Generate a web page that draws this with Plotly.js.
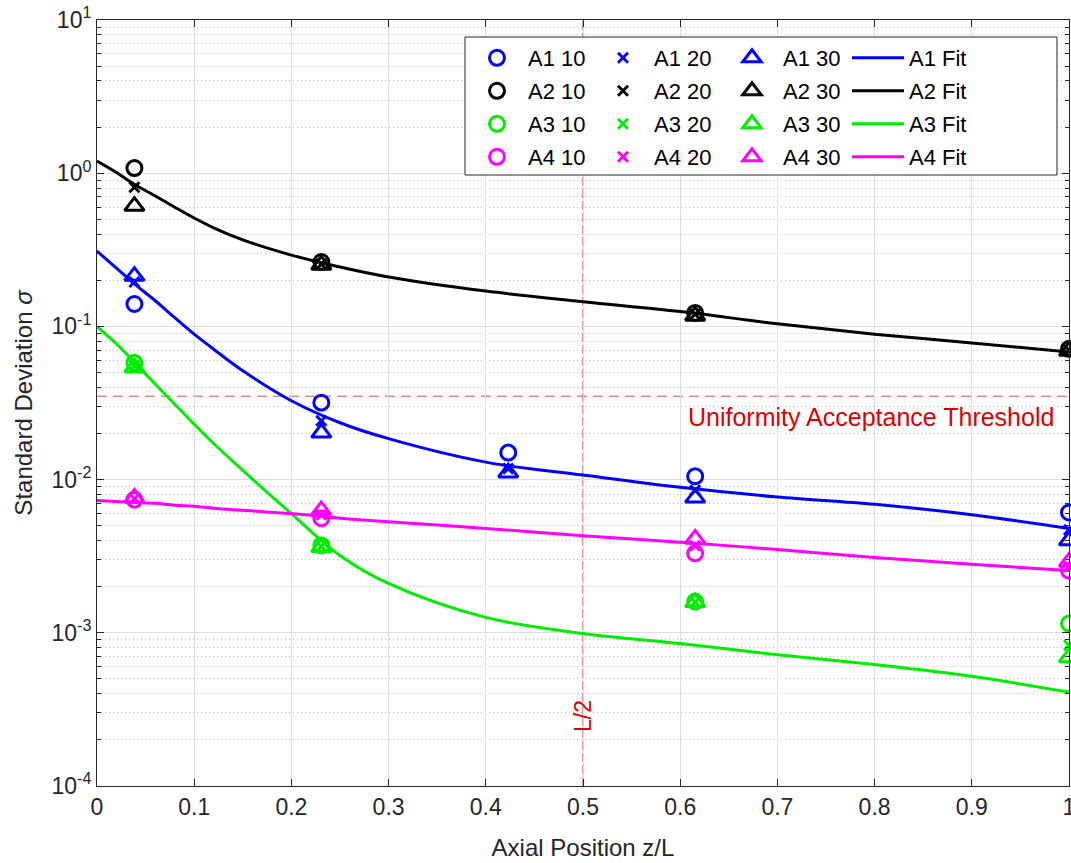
<!DOCTYPE html>
<html>
<head>
<meta charset="utf-8">
<script src="https://cdn.plot.ly/plotly-3.0.1.min.js"></script>
<style>html,body{margin:0;padding:0;background:#fff;}#chart{width:1071px;height:863px;}</style>
</head>
<body>
<div id="chart"></div>
<script>
// Axial positions of measurements (z/L)
const zPos = [0.0385, 0.2308, 0.4231, 0.6154, 1.0];

// Measured standard deviations
const A1_10 = [0.140, 0.0318, 0.0150, 0.0105, 0.0061];
const A1_20 = [0.195, 0.0242, 0.0118, 0.0085, 0.0047];
const A1_30 = [0.213, 0.0202, 0.0111, 0.0076, 0.0040];
const A2_10 = [1.08, 0.263, null, 0.1225, 0.0714];
const A2_20 = [0.81, 0.255, null, 0.120, 0.070];
const A2_30 = [0.61, 0.252, null, 0.117, 0.069];
const A3_10 = [0.0578, 0.00372, null, 0.00160, 0.00115];
const A3_20 = [0.0555, 0.00367, null, 0.00159, 0.00083];
const A3_30 = [0.0537, 0.00362, null, 0.00158, 0.00069];
const A4_10 = [0.0074, 0.0056, null, 0.0033, 0.00255];
const A4_20 = [0.0075, 0.0059, null, 0.0037, 0.0027];
const A4_30 = [0.0076, 0.0063, null, 0.0041, 0.0029];

// Fit curves
const zFit   = [0, 0.02, 0.04, 0.06, 0.08, 0.1, 0.12, 0.15, 0.2, 0.25, 0.3, 0.4, 0.5, 0.6, 0.7, 0.8, 0.9, 1.0];
const A1_fit = [0.310, 0.240, 0.186, 0.147, 0.114, 0.089, 0.071, 0.0513, 0.0327, 0.0235, 0.0185, 0.0130, 0.0107, 0.0089, 0.0077, 0.0069, 0.0059, 0.0048];
const A2_fit = [1.20, 1.01, 0.835, 0.71, 0.60, 0.51, 0.44, 0.367, 0.292, 0.244, 0.21, 0.17, 0.145, 0.125, 0.104, 0.089, 0.078, 0.068];
const A3_fit = [0.100, 0.077, 0.057, 0.042, 0.031, 0.023, 0.0172, 0.0115, 0.0060, 0.0032, 0.0021, 0.00126, 0.00099, 0.00085, 0.00072, 0.00062, 0.00052, 0.00041];
const A4_fit = [0.0073, 0.0072, 0.0071, 0.0070, 0.0068, 0.0067, 0.0065, 0.0063, 0.0060, 0.0056, 0.0053, 0.0048, 0.0043, 0.0039, 0.0035, 0.0031, 0.0028, 0.00255];

const threshold = 0.035;
const halfL = 0.5;

const seriesNames = ['A1', 'A2', 'A3', 'A4'];
const seriesColors = ['#0000ff', '#000000', '#00ee00', '#ff00ff'];
const data10 = [A1_10, A2_10, A3_10, A4_10];
const data20 = [A1_20, A2_20, A3_20, A4_20];
const data30 = [A1_30, A2_30, A3_30, A4_30];
const dataFit = [A1_fit, A2_fit, A3_fit, A4_fit];

const yTickVals = [1e-4, 1e-3, 1e-2, 1e-1, 1, 10];
const yTickText = ['10<sup>-4</sup>', '10<sup>-3</sup>', '10<sup>-2</sup>', '10<sup>-1</sup>', '10<sup>0</sup>', '10<sup>1</sup>'];
const xTickVals = [0, 0.1, 0.2, 0.3, 0.4, 0.5, 0.6, 0.7, 0.8, 0.9, 1];
const xTickText = ['0', '0.1', '0.2', '0.3', '0.4', '0.5', '0.6', '0.7', '0.8', '0.9', '1'];

// Page geometry (pixels)
const W = 1071, H = 863;
const M = {l: 97, r: 2, t: 20, b: 77};
const pw = W - M.l - M.r, ph = H - M.t - M.b;
const px2x = p => (p - M.l) / pw;
const py2y = p => (H - M.b - p) / ph;

// legend grid: column left edges and row centres (pixels)
const legCols = [466, 592, 721, 847];
const legRows = [58, 91, 124, 157];

const font = 'Liberation Sans, Arial, Helvetica, sans-serif';
const traces = [];
const layout = {
  width: W, height: H,
  margin: M,
  paper_bgcolor: '#ffffff', plot_bgcolor: '#ffffff',
  font: {family: font, size: 23, color: '#262626'},
  showlegend: true,
  xaxis: {
    range: [0, 1], tickvals: xTickVals, ticktext: xTickText,
    showgrid: true, gridcolor: '#dedede', gridwidth: 1,
    ticks: 'inside', ticklen: 7, tickcolor: '#262626',
    showline: true, linecolor: '#262626', linewidth: 1, mirror: 'ticks',
    zeroline: false, ticklabeloverflow: 'allow',
    tickfont: {family: font, size: 23, color: '#262626'},
    title: {text: 'Axial Position z/L', font: {family: font, size: 24, color: '#262626'}, standoff: 20}
  },
  yaxis: {
    type: 'log', range: [-4, 1], tickvals: yTickVals, ticktext: yTickText,
    showgrid: true, gridcolor: '#dedede', gridwidth: 1,
    ticks: 'inside', ticklen: 7, tickcolor: '#262626',
    showline: true, linecolor: '#262626', linewidth: 1, mirror: 'ticks',
    zeroline: false, ticklabeloverflow: 'allow',
    tickfont: {family: font, size: 23, color: '#262626'},
    minor: {dtick: 'D1', showgrid: true, gridcolor: '#bcbcbc', griddash: '1px,3px', gridwidth: 1, ticks: 'inside', ticklen: 4, tickcolor: '#262626'},
    title: {text: 'Standard Deviation <i>σ</i>', font: {family: font, size: 24, color: '#262626'}, standoff: 12}
  },
  shapes: [
    {type: 'line', xref: 'paper', x0: 0, x1: 1, yref: 'y', y0: threshold, y1: threshold,
     line: {color: 'rgba(220,120,120,0.85)', width: 1.5, dash: '10px,6px'}, layer: 'below'},
    {type: 'line', xref: 'x', x0: halfL, x1: halfL, yref: 'paper', y0: 0, y1: 1,
     line: {color: 'rgb(190,50,50)', width: 1, dash: '9px,3px'}, layer: 'below'},
    // legend frame
    {type: 'rect', xref: 'paper', yref: 'paper', x0: px2x(465), x1: px2x(1057), y0: py2y(175), y1: py2y(37),
     fillcolor: '#ffffff', line: {color: '#262626', width: 1}, layer: 'above'}
  ],
  annotations: [
    {text: 'Uniformity Acceptance Threshold', xref: 'paper', x: px2x(1056), xanchor: 'right',
     yref: 'y', y: Math.log10(threshold), yanchor: 'top', yshift: -5, showarrow: false,
     font: {family: font, size: 25, color: '#e00000'}},
    {text: 'L/2', xref: 'x', x: halfL, yref: 'paper', y: py2y(716), textangle: -90, showarrow: false,
     xanchor: 'center', yanchor: 'middle',
     font: {family: font, size: 23, color: '#e00000'}}
  ]
};

let legIdx = 0;
function legendFor(col, row) {
  legIdx++;
  const key = legIdx === 1 ? 'legend' : 'legend' + legIdx;
  layout[key] = {
    x: px2x(legCols[col]), xanchor: 'left', y: py2y(legRows[row]), yanchor: 'middle',
    bgcolor: 'rgba(0,0,0,0)', borderwidth: 0, itemwidth: 52,
    font: {family: font, size: 22, color: '#000000'}
  };
  return key;
}

for (let i = 0; i < 4; i++) {
  const c = seriesColors[i];
  traces.push({x: zPos, y: data10[i], mode: 'markers', name: seriesNames[i] + ' 10', cliponaxis: false,
    legend: legendFor(0, i),
    marker: {symbol: 'circle-open', size: 15, color: c, line: {color: c, width: 3}}});
}
for (let i = 0; i < 4; i++) {
  const c = seriesColors[i];
  traces.push({x: zPos, y: data20[i], mode: 'markers', name: seriesNames[i] + ' 20', cliponaxis: false,
    legend: legendFor(1, i),
    marker: {symbol: 'x-thin-open', size: 10, color: c, line: {color: c, width: 3}}});
}
for (let i = 0; i < 4; i++) {
  const c = seriesColors[i];
  traces.push({x: zPos, y: data30[i], mode: 'markers', name: seriesNames[i] + ' 30', cliponaxis: false,
    legend: legendFor(2, i),
    marker: {symbol: 'triangle-up-open', size: 17, color: c, line: {color: c, width: 3}}});
}
for (let i = 0; i < 4; i++) {
  const c = seriesColors[i];
  traces.push({x: zFit, y: dataFit[i], mode: 'lines', name: seriesNames[i] + ' Fit',
    legend: legendFor(3, i),
    line: {color: c, width: 3, shape: 'spline', smoothing: 1}});
}

Plotly.newPlot('chart', traces, layout, {displayModeBar: false, staticPlot: true});
</script>
</body>
</html>
